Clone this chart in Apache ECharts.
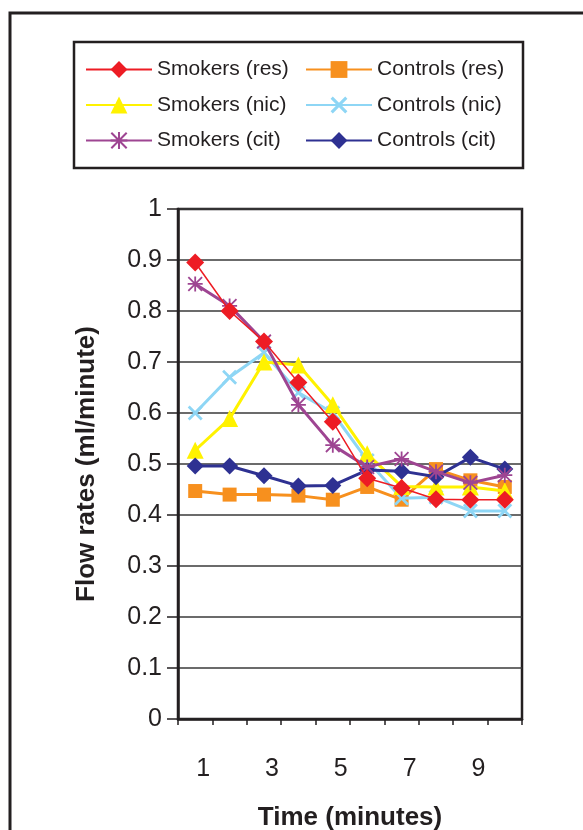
<!DOCTYPE html>
<html>
<head>
<meta charset="utf-8">
<script src="https://cdn.jsdelivr.net/npm/echarts@6/dist/echarts.min.js"></script>
<style>
html,body{margin:0;padding:0;background:#fff;}
#chart{width:583px;height:830px;}
</style>
</head>
<body>
<div id="chart"></div>
<script>
// ---- data ----
const times = ['1','2','3','4','5','6','7','8','9','10'];
const yTicks = [0, 0.1, 0.2, 0.3, 0.4, 0.5, 0.6, 0.7, 0.8, 0.9, 1];
const smokersRes  = [0.895, 0.80, 0.74, 0.66, 0.583, 0.472, 0.453, 0.431, 0.43, 0.43];
const controlsRes = [0.447, 0.44, 0.44, 0.438, 0.43, 0.455, 0.43, 0.49, 0.468, 0.455];
const smokersNic  = [0.527, 0.589, 0.70, 0.694, 0.616, 0.52, 0.456, 0.455, 0.455, 0.447];
const controlsNic = [0.60, 0.67, 0.718, 0.64, 0.60, 0.507, 0.433, 0.435, 0.408, 0.408];
const smokersCit  = [0.853, 0.81, 0.74, 0.616, 0.537, 0.494, 0.51, 0.485, 0.463, 0.478];
const controlsCit = [0.496, 0.496, 0.477, 0.457, 0.458, 0.488, 0.486, 0.475, 0.513, 0.49];

const FONT = "'Liberation Sans', Arial, Helvetica, sans-serif";
const INK = '#231f20';

const xSym = 'path://M0,1.3L1.3,0L10,8.7L8.7,10Z M8.7,0L10,1.3L1.3,10L0,8.7Z';
const starSym = 'path://M4.4,0L5.6,0L5.6,10L4.4,10Z M0,4.4L10,4.4L10,5.6L0,5.6Z M0,0.85L0.85,0L10,9.15L9.15,10Z M9.15,0L10,0.85L0.85,10L0,9.15Z';

function mk(name, data, color, symbol, size, width, z) {
  return {
    name: name, type: 'line', data: data, z: z,
    symbol: symbol, symbolSize: size, showSymbol: true,
    lineStyle: {color: color, width: width},
    itemStyle: {color: color, borderWidth: 0},
    emphasis: {disabled: true},
    animation: false
  };
}

const legendCommon = {
  orient: 'vertical', top: 54, itemWidth: 66, itemHeight: 21, itemGap: 14.5,
  textStyle: {fontSize: 21, color: INK, fontFamily: FONT}, selectedMode: false
};

const chart = echarts.init(document.getElementById('chart'), null, {renderer: 'canvas'});
chart.setOption({
  backgroundColor: '#fff',
  animation: false,
  textStyle: {fontFamily: FONT},
  graphic: [
    {type: 'rect', shape: {x: 10, y: 13, width: 640, height: 900},
     style: {fill: 'none', stroke: INK, lineWidth: 3}, z: 0, silent: true},
    {type: 'rect', shape: {x: 74, y: 42, width: 449, height: 126},
     style: {fill: 'none', stroke: INK, lineWidth: 2.5}, z: 0, silent: true}
  ],
  legend: [
    Object.assign({left: 80, data: ['Smokers (res)', 'Smokers (nic)', 'Smokers (cit)']}, legendCommon),
    Object.assign({left: 300, data: ['Controls (res)', 'Controls (nic)', 'Controls (cit)']}, legendCommon)
  ],
  grid: {left: 178, right: 61, top: 209, bottom: 111, show: true,
         outerBoundsMode: 'none', containLabel: false,
         borderColor: INK, borderWidth: 2.5, backgroundColor: 'transparent'},
  xAxis: {
    type: 'category', data: times, boundaryGap: true,
    name: 'Time (minutes)', nameLocation: 'middle', nameGap: 86,
    nameTextStyle: {fontSize: 26, fontWeight: 'bold', color: INK, fontFamily: FONT},
    axisLine: {lineStyle: {color: INK, width: 2.5}},
    axisTick: {show: true, interval: 0, length: 6, lineStyle: {color: INK, width: 1.5}},
    axisLabel: {interval: 1, margin: 38, fontSize: 25, color: INK, fontFamily: FONT,
                padding: [0, 0, 0, 16]},
    splitLine: {show: false}
  },
  yAxis: {
    type: 'value', min: yTicks[0], max: yTicks[yTicks.length - 1], interval: 0.1,
    name: 'Flow rates (ml/minute)', nameLocation: 'middle', nameGap: 78, nameRotate: 90,
    nameTextStyle: {fontSize: 26, fontWeight: 'bold', color: INK, fontFamily: FONT},
    axisLine: {show: true, lineStyle: {color: INK, width: 2.5}},
    axisTick: {show: true, length: 11, lineStyle: {color: INK, width: 1.5}},
    axisLabel: {margin: 16, fontSize: 25, color: INK, fontFamily: FONT,
                formatter: function (v) { return String(+v.toFixed(1)); }},
    splitLine: {show: true, lineStyle: {color: '#3a3a3a', width: 1.5}}
  },
  series: [
    mk('Controls (res)', controlsRes, '#f7901e', 'rect', 14, 3, 2),
    mk('Controls (nic)', controlsNic, '#8ed6f5', xSym, 15, 3, 3),
    mk('Smokers (nic)', smokersNic, '#fff200', 'triangle', 17, 3, 4),
    mk('Controls (cit)', controlsCit, '#2e3192', 'diamond', 17, 3, 5),
    mk('Smokers (cit)', smokersCit, '#9e4592', starSym, 15, 3, 6),
    mk('Smokers (res)', smokersRes, '#ed1c24', 'diamond', 18, 1.5, 7)
  ]
});
</script>
</body>
</html>
